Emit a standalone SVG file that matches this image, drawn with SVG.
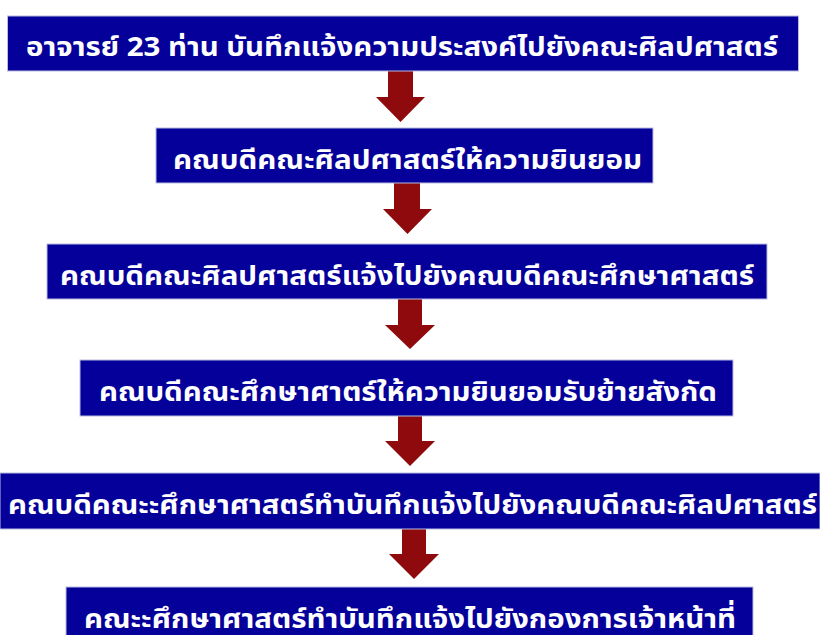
<svg xmlns="http://www.w3.org/2000/svg" width="820" height="635" viewBox="0 0 820 635">
<style>
.box{fill:#050099;stroke:#b8bce0;stroke-width:1}
.t{fill:#ffffff;font-family:"Noto Sans Thai","Noto Sans Thai UI","Noto Sans","DejaVu Sans",sans-serif;font-weight:bold;font-size:27px;text-anchor:middle}
.arr{fill:#8e0a0c}
</style>
<rect width="820" height="635" fill="#ffffff"/>
<g id="connectors">
<polygon class="arr" points="388,71 413,71 413,97 425,97 400.5,122 376,97 388,97"/>
<polygon class="arr" points="394,183 420,183 420,209 432,209 407.5,234 383,209 394,209"/>
<polygon class="arr" points="398,299 422,299 422,325 435,325 410,349 385,325 398,325"/>
<polygon class="arr" points="398,416 422,416 422,441 435,441 410,466 385,441 398,441"/>
<polygon class="arr" points="402,529 426,529 426,554 439,554 414,579 389,554 402,554"/>
</g>
<g id="n1"><rect class="box" x="7.5" y="16" width="791" height="55"/><text class="t" x="402" y="56" textLength="752" lengthAdjust="spacingAndGlyphs">อาจารย์ 23 ท่าน บันทึกแจ้งความประสงค์ไปยังคณะศิลปศาสตร์</text></g>
<g id="n2"><rect class="box" x="156" y="128" width="497" height="55"/><text class="t" x="407.5" y="169" textLength="469" lengthAdjust="spacingAndGlyphs">คณบดีคณะศิลปศาสตร์ให้ความยินยอม</text></g>
<g id="n3"><rect class="box" x="47" y="244" width="720" height="55"/><text class="t" x="407" y="285" textLength="694" lengthAdjust="spacingAndGlyphs">คณบดีคณะศิลปศาสตร์แจ้งไปยังคณบดีคณะศึกษาศาสตร์</text></g>
<g id="n4"><rect class="box" x="80" y="360" width="653" height="56"/><text class="t" x="408" y="401" textLength="618" lengthAdjust="spacingAndGlyphs">คณบดีคณะศึกษาศาตร์ให้ความยินยอมรับย้ายสังกัด</text></g>
<g id="n5"><rect class="box" x="0" y="473" width="820" height="56"/><text class="t" x="412.5" y="514" textLength="809" lengthAdjust="spacingAndGlyphs">คณบดีคณะะศึกษาศาสตร์ทำบันทึกแจ้งไปยังคณบดีคณะศิลปศาสตร์</text></g>
<g id="n6"><rect class="box" x="66" y="587" width="687" height="60"/><text class="t" x="410" y="628" textLength="652" lengthAdjust="spacingAndGlyphs">คณะะศึกษาศาสตร์ทำบันทึกแจ้งไปยังกองการเจ้าหน้าที่</text></g>
</svg>
